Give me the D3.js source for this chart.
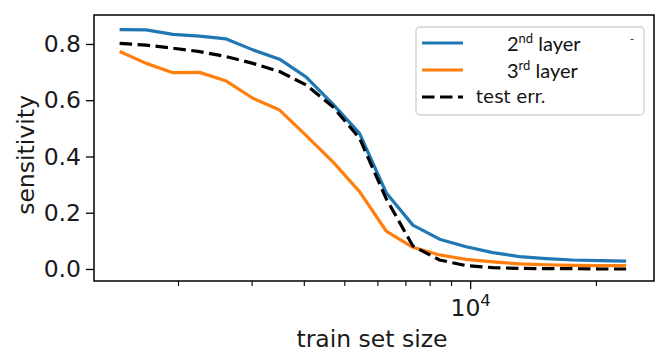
<!DOCTYPE html>
<html>
<head>
<meta charset="utf-8">
<script src="https://cdn.jsdelivr.net/npm/d3@7"></script>
<style>
  html, body { margin: 0; padding: 0; background: #fff; }
  svg { display: block; }
</style>
</head>
<body>
<svg id="chart" width="663" height="360"></svg>
<script>
// ---- data ----
const trainSizes = [1450, 1679, 1945, 2253, 2609, 3022, 3500, 4054, 4695, 5438,
                    6298, 7294, 8448, 9785, 11333, 13126, 15202, 17607, 20393, 23619];
const layer2 = [0.851, 0.850, 0.834, 0.828, 0.818, 0.779, 0.746, 0.682, 0.586, 0.482,
                0.271, 0.156, 0.106, 0.079, 0.058, 0.044, 0.037, 0.032, 0.030, 0.028];
const layer3 = [0.773, 0.731, 0.698, 0.699, 0.668, 0.607, 0.565, 0.474, 0.381, 0.275,
                0.135, 0.077, 0.050, 0.034, 0.025, 0.018, 0.015, 0.013, 0.012, 0.012];
const testErr = [0.802, 0.796, 0.785, 0.773, 0.755, 0.731, 0.702, 0.654, 0.577, 0.465,
                 0.250, 0.082, 0.032, 0.012, 0.005, 0.002, 0.001, 0.001, 0.000, 0.000];
const yTicks = [0.0, 0.2, 0.4, 0.6, 0.8];
const xMajorTicks = [10000];
const xMinorTicks = [2000, 3000, 4000, 5000, 6000, 7000, 8000, 9000, 20000];
const seriesNames = ["2nd layer", "3rd layer", "test err."];
const colors = ["#1f77b4", "#ff7f0e", "#000000"];

// ---- layout ----
const svg = d3.select("#chart");
const L = 94, R = 654, T = 15, B = 281;
const x = d3.scaleLog().domain([1259, 27540]).range([L, R]);
const y = d3.scaleLinear().domain([-0.0427, 0.903]).range([B, T]);
const font = "DejaVu Sans, sans-serif";
const fs = 23.5;
const lw = 3.2;
const dash = "12.5,5.5";

// axes
const yAxis = d3.axisLeft(y).tickValues(yTicks).tickFormat(d3.format(".1f")).tickSize(8).tickPadding(5);
const gy = svg.append("g").attr("transform", `translate(${L},0)`).call(yAxis);
gy.select(".domain").remove();
gy.selectAll("line").attr("stroke", "#000").attr("stroke-width", 1.3);
gy.selectAll("text").attr("font-family", font).attr("font-size", fs).attr("fill", "#1a1a1a");

const xMinor = d3.axisBottom(x).tickValues(xMinorTicks).tickFormat("").tickSize(5);
const gxm = svg.append("g").attr("transform", `translate(0,${B})`).call(xMinor);
gxm.select(".domain").remove();
gxm.selectAll("line").attr("stroke", "#000").attr("stroke-width", 1.1);

const xMajor = d3.axisBottom(x).tickValues(xMajorTicks).tickFormat("").tickSize(8);
const gx = svg.append("g").attr("transform", `translate(0,${B})`).call(xMajor);
gx.select(".domain").remove();
gx.selectAll("line").attr("stroke", "#000").attr("stroke-width", 1.3);
gx.selectAll(".tick").append("text")
  .attr("y", 35).attr("text-anchor", "middle")
  .attr("font-family", font).attr("font-size", fs).attr("fill", "#1a1a1a")
  .each(function(d) {
    const t = d3.select(this);
    t.append("tspan").text("10");
    t.append("tspan").attr("dy", -10).attr("font-size", fs * 0.7).text(String(Math.round(Math.log10(d))));
  });

// lines
const series = [layer2, layer3, testErr];
const line = d3.line().x((d, i) => x(trainSizes[i])).y(d => y(d));
series.forEach((s, k) => {
  svg.append("path").datum(s)
    .attr("d", line)
    .attr("fill", "none")
    .attr("stroke", colors[k])
    .attr("stroke-width", lw)
    .attr("stroke-linejoin", "round")
    .attr("stroke-dasharray", k === 2 ? dash : null);
});

// frame
svg.append("rect").attr("x", L).attr("y", T).attr("width", R - L).attr("height", B - T)
  .attr("fill", "none").attr("stroke", "#000").attr("stroke-width", 1.5);

// axis labels
svg.append("text").attr("x", (L + R) / 2 - 2).attr("y", 347).attr("text-anchor", "middle")
  .attr("font-family", font).attr("font-size", 23.5).attr("fill", "#1a1a1a").text("train set size");
svg.append("text").attr("transform", `translate(34,${(T + B) / 2 + 7}) rotate(-90)`)
  .attr("text-anchor", "middle")
  .attr("font-family", font).attr("font-size", 23.5).attr("fill", "#1a1a1a").text("sensitivity");

// legend
const lg = svg.append("g");
lg.append("rect").attr("x", 416).attr("y", 27).attr("width", 228).attr("height", 88)
  .attr("rx", 4).attr("fill", "#fff").attr("fill-opacity", 0.9)
  .attr("stroke", "#d0d0d0").attr("stroke-width", 1.3);
const rowsY = [43, 70, 97];
seriesNames.forEach((name, k) => {
  lg.append("line").attr("x1", 422).attr("x2", 463).attr("y1", rowsY[k]).attr("y2", rowsY[k])
    .attr("stroke", colors[k]).attr("stroke-width", lw)
    .attr("stroke-dasharray", k === 2 ? dash : null);
});
// edited labels with superscripts
const supLabel = (yy, num, sup) => {
  const t = lg.append("text").attr("x", 507).attr("y", yy + 8)
    .attr("font-family", "Lato, 'Open Sans', sans-serif").attr("font-size", 20).attr("fill", "#111");
  t.append("tspan").text(num);
  t.append("tspan").attr("dy", -8).attr("font-size", 13).text(sup);
  t.append("tspan").attr("dy", 8).text(" layer");
};
supLabel(rowsY[0], "2", "nd");
supLabel(rowsY[1], "3", "rd");
lg.append("text").attr("x", 476).attr("y", rowsY[2] + 6)
  .attr("font-family", font).attr("font-size", 18).attr("fill", "#111").text(seriesNames[2]);
lg.append("text").attr("x", 630).attr("y", 42)
  .attr("font-family", font).attr("font-size", 11).attr("fill", "#333").text("-");
</script>
</body>
</html>
